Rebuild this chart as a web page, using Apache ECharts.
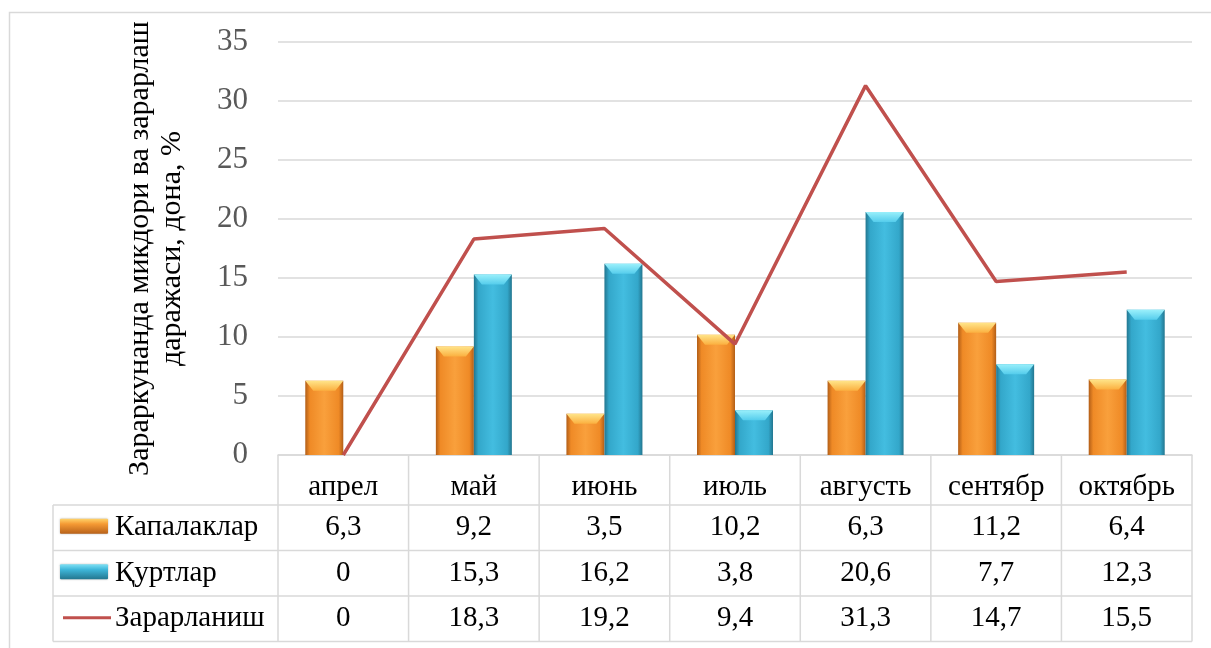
<!DOCTYPE html>
<html>
<head>
<meta charset="utf-8">
<script src="https://cdn.jsdelivr.net/npm/echarts@6/dist/echarts.min.js"></script>
<style>
  html, body { margin: 0; padding: 0; background: #fff; }
  #chart { width: 1211px; height: 648px; }
</style>
</head>
<body>
<div id="chart"></div>
<script>
// Monthly pest counts and damage level
const months = ['апрел', 'май', 'июнь', 'июль', 'августь', 'сентябр', 'октябрь'];
const kapalaklar = [6.3, 9.2, 3.5, 10.2, 6.3, 11.2, 6.4];
const kurtlar = [0, 15.3, 16.2, 3.8, 20.6, 7.7, 12.3];
const zararlanish = [0, 18.3, 19.2, 9.4, 31.3, 14.7, 15.5];
const seriesNames = ['Капалаклар', 'Қуртлар', 'Зарарланиш'];
const yTicks = [0, 5, 10, 15, 20, 25, 30, 35];
const yTitle = 'Зараркунанда микдори ва зарарлаш\nдаражаси, дона, %';

const SERIF = '"Liberation Serif", "DejaVu Serif", serif';
const GRID = { left: 278, right: 19, top: 42, bottom: 193 };
const LINE_COLOR = '#d9d9d9';
const BAR_W = 38;
const TABLE_FONT = '29px ' + SERIF;

function barGradient(edge, mid, light) {
  return new echarts.graphic.LinearGradient(0, 0, 1, 0, [
    { offset: 0, color: edge },
    { offset: 0.12, color: mid },
    { offset: 0.5, color: light },
    { offset: 0.88, color: mid },
    { offset: 1, color: edge }
  ]);
}
const orangeFill = barGradient('#b25e17', '#ef8a26', '#f9a03c');
const blueFill = barGradient('#23768f', '#33a7ca', '#43bde0');
const orangeCap = new echarts.graphic.LinearGradient(0, 0, 0, 1, [
  { offset: 0, color: '#ffe58a' }, { offset: 1, color: '#fbb040' }
]);
const blueCap = new echarts.graphic.LinearGradient(0, 0, 0, 1, [
  { offset: 0, color: '#9af0fb' }, { offset: 1, color: '#55cdec' }
]);
// bevelled top face of each bar
const capPath = 'path://M0,0 L38,0 L30,10 L8,10 Z';
const capData = vals => vals.map(v => v > 0 ? v : { value: v, symbol: 'none' });

const chart = echarts.init(document.getElementById('chart'));

chart.setOption({
  animation: false,
  backgroundColor: '#fff',
  grid: GRID,
  xAxis: {
    type: 'category',
    data: months,
    axisLine: { lineStyle: { color: LINE_COLOR, width: 1.5 } },
    axisTick: { show: false },
    axisLabel: {
      margin: 32,
      verticalAlign: 'middle',
      color: '#000',
      fontFamily: SERIF,
      fontSize: 29
    }
  },
  yAxis: {
    type: 'value',
    min: yTicks[0],
    max: yTicks[yTicks.length - 1],
    interval: 5,
    name: yTitle,
    nameLocation: 'middle',
    nameRotate: 90,
    nameGap: 90,
    nameTextStyle: { color: '#000', fontFamily: SERIF, fontSize: 30, lineHeight: 32 },
    axisLine: { show: false },
    axisTick: { show: false },
    axisLabel: { margin: 30, color: '#595959', fontFamily: SERIF, fontSize: 31 },
    splitLine: { lineStyle: { color: LINE_COLOR, width: 1.5 } }
  },
  series: [
    {
      name: seriesNames[0],
      type: 'bar',
      data: kapalaklar,
      barWidth: BAR_W,
      barGap: '0%',
      itemStyle: { color: orangeFill, shadowBlur: 3, shadowColor: 'rgba(0,0,0,0.25)', shadowOffsetX: 1 }
    },
    {
      name: seriesNames[1],
      type: 'bar',
      data: kurtlar,
      barWidth: BAR_W,
      barGap: '0%',
      itemStyle: { color: blueFill, shadowBlur: 3, shadowColor: 'rgba(0,0,0,0.25)', shadowOffsetX: 1 }
    },
    {
      type: 'pictorialBar',
      data: capData(kapalaklar),
      barWidth: BAR_W,
      barGap: '0%',
      symbol: capPath,
      symbolSize: [BAR_W, 10],
      symbolPosition: 'end',
      symbolOffset: [0, 0],
      itemStyle: { color: orangeCap },
      z: 3,
      silent: true
    },
    {
      type: 'pictorialBar',
      data: capData(kurtlar),
      barWidth: BAR_W,
      barGap: '0%',
      symbol: capPath,
      symbolSize: [BAR_W, 10],
      symbolPosition: 'end',
      symbolOffset: [0, 0],
      itemStyle: { color: blueCap },
      z: 3,
      silent: true
    },
    {
      name: seriesNames[2],
      type: 'line',
      data: zararlanish,
      symbol: 'none',
      lineStyle: { color: '#c0504d', width: 3.5 },
      z: 5
    }
  ]
});

// Data table under the plot, laid out from the category axis
function buildTable() {
  const x0 = chart.convertToPixel({ xAxisIndex: 0 }, 0);
  const x1 = chart.convertToPixel({ xAxisIndex: 0 }, 1);
  const band = x1 - x0;
  const axisY = chart.convertToPixel({ yAxisIndex: 0 }, 0);
  const tableLeft = x0 - band / 2;
  const tableRight = tableLeft + band * months.length;
  const headerBottom = axisY + 50;
  const rowH = 45.5;
  const legendLeft = 53;
  const rows = [kapalaklar, kurtlar, zararlanish];
  const tableBottom = headerBottom + rowH * rows.length;
  const els = [];
  const line = (xa, ya, xb, yb) => els.push({
    type: 'line', shape: { x1: xa, y1: ya, x2: xb, y2: yb },
    style: { stroke: LINE_COLOR, lineWidth: 1.5 }, silent: true
  });

  // outer chart frame
  els.push({ type: 'rect', shape: { x: 9.5, y: 12.5, width: 1220, height: 660 },
    style: { fill: 'none', stroke: LINE_COLOR, lineWidth: 1.5 }, silent: true });

  // vertical separators
  for (let i = 0; i <= months.length; i++) {
    const x = tableLeft + band * i;
    line(x, axisY, x, tableBottom);
  }
  line(legendLeft, headerBottom, legendLeft, tableBottom);
  // horizontal separators
  for (let r = 0; r <= rows.length; r++) {
    const y = headerBottom + rowH * r;
    line(legendLeft, y, tableRight, y);
  }

  rows.forEach((vals, r) => {
    const cy = headerBottom + rowH * (r + 0.5);
    // legend keys
    if (r === 0 || r === 1) {
      els.push({
        type: 'rect', shape: { x: 60, y: cy - 9, width: 48, height: 15, r: 1 },
        style: {
          fill: new echarts.graphic.LinearGradient(0, 0, 0, 1, r === 0
            ? [{ offset: 0, color: '#ffd36a' }, { offset: 0.35, color: '#f59a34' }, { offset: 1, color: '#b8621a' }]
            : [{ offset: 0, color: '#7fe1f5' }, { offset: 0.35, color: '#3fb7da' }, { offset: 1, color: '#23768f' }]),
          shadowBlur: 2, shadowColor: 'rgba(0,0,0,0.3)'
        }, silent: true
      });
    } else {
      els.push({ type: 'line', shape: { x1: 63, y1: cy - 1, x2: 111, y2: cy - 1 },
        style: { stroke: '#c0504d', lineWidth: 3 }, silent: true });
    }
    els.push({
      type: 'text', x: 115, y: cy,
      style: { text: seriesNames[r], fill: '#000', font: TABLE_FONT, textAlign: 'left', textVerticalAlign: 'middle' },
      silent: true
    });
    vals.forEach((v, i) => {
      els.push({
        type: 'text', x: chart.convertToPixel({ xAxisIndex: 0 }, i), y: cy,
        style: { text: String(v).replace('.', ','), fill: '#000', font: TABLE_FONT, textAlign: 'center', textVerticalAlign: 'middle' },
        silent: true
      });
    });
  });

  chart.setOption({ graphic: { elements: els } });
}
buildTable();
</script>
</body>
</html>
